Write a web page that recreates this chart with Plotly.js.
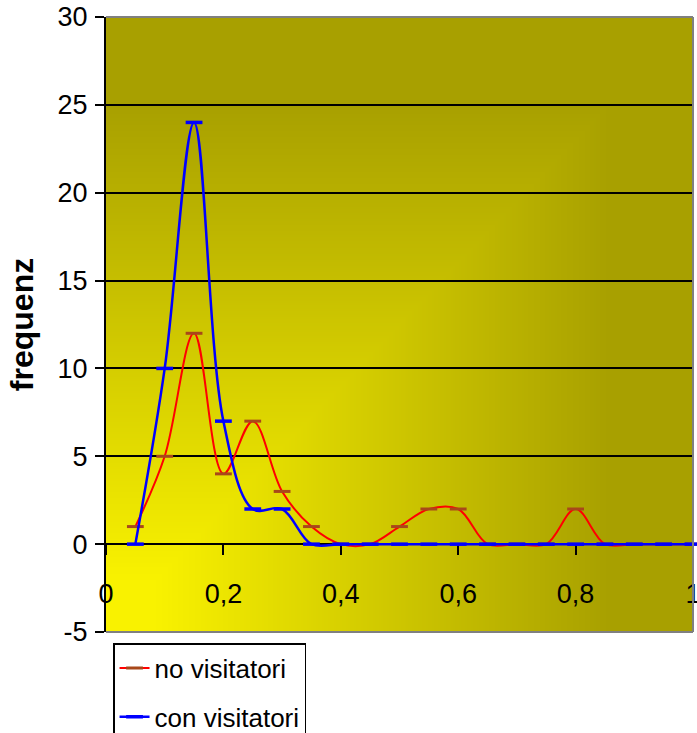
<!DOCTYPE html>
<html>
<head>
<meta charset="utf-8">
<script src="https://cdn.plot.ly/plotly-3.0.1.min.js"></script>
<style>
  html, body { margin: 0; padding: 0; background: #ffffff; }
  #chart { width: 697px; height: 733px; }
</style>
</head>
<body>
<div id="chart"></div>
<script>
// Class midpoints (x) and frequencies for both groups
const xValues = [0.05, 0.10, 0.15, 0.20, 0.25, 0.30, 0.35, 0.40, 0.45, 0.50,
                 0.55, 0.60, 0.65, 0.70, 0.75, 0.80, 0.85, 0.90, 0.95, 1.00];
const noVisitatori  = [1, 5, 12, 4, 7, 3, 1, 0, 0, 1, 2, 2, 0, 0, 0, 2, 0, 0, 0, 0];
const conVisitatori = [0, 10, 24, 7, 2, 2, 0, 0, 0, 0, 0, 0, 0, 0, 0, 0, 0, 0, 0, 0];
const seriesNames = ['no visitatori', 'con visitatori'];
const yTickValues = [-5, 0, 5, 10, 15, 20, 25, 30];
const yTickLabels = ['-5', '0', '5', '10', '15', '20', '25', '30'];
const xTickValues = [0, 0.2, 0.4, 0.6, 0.8, 1];

// Plot-area fill: a "from corner" gradient, bright yellow at the lower-left
// corner fading to olive towards the top and the right edge.
function cornerGradient(w, h) {
  const c = document.createElement('canvas');
  c.width = w; c.height = h;
  const ctx = c.getContext('2d');
  const img = ctx.createImageData(w, h);
  const bright = [249, 242, 0];
  const dark = [168, 160, 0];
  for (let y = 0; y < h; y++) {
    for (let x = 0; x < w; x++) {
      const fx = x / (w - 1);
      const fy = 1 - y / (h - 1);
      const t = Math.max(fx, fy);
      let s = (t - 0.08) / 0.78;
      s = Math.min(1, Math.max(0, s));
      const i = (y * w + x) * 4;
      img.data[i]     = Math.round(bright[0] + (dark[0] - bright[0]) * s);
      img.data[i + 1] = Math.round(bright[1] + (dark[1] - bright[1]) * s);
      img.data[i + 2] = Math.round(bright[2] + (dark[2] - bright[2]) * s);
      img.data[i + 3] = 255;
    }
  }
  ctx.putImageData(img, 0, 0);
  return c.toDataURL('image/png');
}

const FONT = '"Liberation Sans", Arial, sans-serif';

const traces = [
  {
    x: xValues, y: noVisitatori, name: seriesNames[0],
    type: 'scatter', mode: 'lines+markers',
    line: { color: '#ff0000', width: 2, shape: 'spline', smoothing: 1 },
    marker: { symbol: 'line-ew', size: 12, line: { color: '#a8481a', width: 3 } },
    legendgroup: 'a', cliponaxis: false
  },
  {
    x: xValues, y: conVisitatori, name: seriesNames[1],
    type: 'scatter', mode: 'lines+markers',
    line: { color: '#0000ff', width: 2.5, shape: 'spline', smoothing: 1 },
    marker: { symbol: 'line-ew', size: 12, line: { color: '#0000ff', width: 3.5 } },
    legendgroup: 'b', cliponaxis: false
  }
];

const layout = {
  width: 697, height: 733,
  margin: { l: 106, r: 4, t: 17, b: 101, pad: 0, autoexpand: false },
  paper_bgcolor: '#ffffff',
  plot_bgcolor: 'rgba(0,0,0,0)',
  separators: ',.',
  font: { family: FONT, color: '#000000', size: 27 },
  showlegend: true,
  legend: {
    x: 0.012, y: -0.018, xanchor: 'left', yanchor: 'top',
    bgcolor: '#ffffff', bordercolor: '#000000', borderwidth: 1.5,
    font: { family: FONT, size: 26, color: '#000000' },
    traceorder: 'grouped', tracegroupgap: 12
  },
  xaxis: {
    range: [0, 1], tickvals: xTickValues, tickformat: '.1~f',
    anchor: 'free', position: 5 / 35,
    showgrid: false, zeroline: false,
    showline: true, linecolor: '#000000', linewidth: 2,
    layer: 'below traces',
    ticks: 'outside', ticklen: 10, tickwidth: 2, tickcolor: '#000000',
    ticklabelstandoff: 15, ticklabeloverflow: 'allow',
    tickfont: { family: FONT, size: 27, color: '#000000' },
    fixedrange: true
  },
  yaxis: {
    range: [-5, 30], tickvals: yTickValues, ticktext: yTickLabels,
    showgrid: true, gridcolor: '#000000', gridwidth: 2,
    zeroline: false,
    showline: true, linecolor: '#000000', linewidth: 2,
    layer: 'below traces',
    ticks: 'outside', ticklen: 9, tickwidth: 2, tickcolor: '#000000',
    ticklabelstandoff: 2,
    tickfont: { family: FONT, size: 27, color: '#000000' },
    title: { text: 'frequenz', font: { family: FONT, size: 32, weight: 'bold', color: '#000000' }, standoff: 14 },
    automargin: false,
    fixedrange: true
  },
  images: [{
    source: cornerGradient(300, 300),
    xref: 'paper', yref: 'paper', x: 0, y: 1, sizex: 1, sizey: 1,
    xanchor: 'left', yanchor: 'top', sizing: 'stretch', layer: 'below'
  }],
  shapes: [
    { type: 'line', xref: 'paper', yref: 'paper', x0: 0, x1: 1, y0: 1, y1: 1, line: { color: '#808080', width: 2 } },
    { type: 'line', xref: 'paper', yref: 'paper', x0: 1, x1: 1, y0: 0, y1: 1, line: { color: '#808080', width: 2 } },
    { type: 'line', xref: 'paper', yref: 'paper', x0: 0, x1: 1, y0: 0, y1: 0, line: { color: '#808080', width: 2 } }
  ]
};

Plotly.newPlot('chart', traces, layout, { displayModeBar: false, staticPlot: true });
</script>
</body>
</html>
